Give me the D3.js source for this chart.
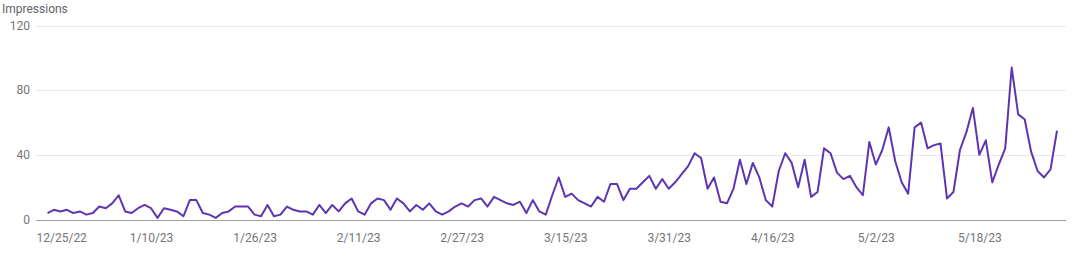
<!DOCTYPE html>
<html>
<head>
<meta charset="utf-8">
<script src="https://cdn.jsdelivr.net/npm/d3@7"></script>
<style>
  body { margin: 0; background: #fff; }
  svg { display: block; font-family: Roboto, "Noto Sans", sans-serif; }
</style>
</head>
<body>
<svg id="chart"></svg>
<script>
// daily impressions, 12/25/22 .. 5/30/23
const startDate = "2022-12-25";
const impressions = [
  4, 6, 5, 6, 4, 5, 3, 4, 8, 7, 10, 15, 5, 4, 7, 9, 7, 1, 7, 6, 5, 2, 12, 12, 4, 3,
  1, 4, 5, 8, 8, 8, 3, 2, 9, 2, 3, 8, 6, 5, 5, 3, 9, 4, 9, 5, 10, 13, 5, 3, 10,
  13, 12, 6, 13, 10, 5, 9, 6, 10, 5, 3, 5, 8, 10, 8, 12, 13, 8, 14, 12, 10, 9, 11, 4, 12, 5,
  3, 15, 26, 14, 16, 12, 10, 8, 14, 11, 22, 22, 12, 19, 19, 23, 27, 19, 25, 19, 23, 28, 33, 41, 38,
  19, 26, 11, 10, 19, 37, 22, 35, 26, 12, 8, 30, 41, 35, 20, 37, 14, 17, 44, 41, 29, 25, 27, 20, 15, 48,
  34, 43, 57, 36, 23, 16, 57, 60, 44, 46, 47, 13, 17, 43, 54, 69, 40, 49, 23, 34, 44, 94, 65, 62, 42, 30, 26, 31, 55
];
const xTickLabels = ["12/25/22", "1/10/23", "1/26/23", "2/11/23", "2/27/23", "3/15/23",
                     "3/31/23", "4/16/23", "5/2/23", "5/18/23"];
const yTicks = [0, 40, 80, 120];
const yTitle = "Impressions";

const width = 1077, height = 257;
const plotLeft = 36, plotRight = 1066;

const parseDate = d3.timeParse("%Y-%m-%d");
const parseTick = d3.timeParse("%-m/%-d/%y");
const day0 = parseDate(startDate);
const data = impressions.map((v, i) => ({ date: d3.timeDay.offset(day0, i), value: v }));

const x = d3.scaleTime()
    .domain(d3.extent(data, d => d.date))
    .range([47.5, 1057]);

const y = d3.scaleLinear()
    .domain([0, 120])
    .range([219.5, 25.5]);

const svg = d3.select("#chart")
    .attr("width", width)
    .attr("height", height);

// gridlines
svg.append("g")
  .selectAll("line")
  .data(yTicks.filter(t => t > 0))
  .join("line")
    .attr("x1", plotLeft)
    .attr("x2", plotRight)
    .attr("y1", d => Math.round(y(d)) + 0.5)
    .attr("y2", d => Math.round(y(d)) + 0.5)
    .attr("stroke", "#e8e8e8")
    .attr("stroke-width", 1);

// y tick labels
svg.append("g")
  .selectAll("text")
  .data(yTicks)
  .join("text")
    .attr("x", 30)
    .attr("y", d => y(d))
    .attr("dy", "0.35em")
    .attr("text-anchor", "end")
    .attr("font-size", 12)
    .attr("fill", "#757575")
    .text(d => d);

// title
svg.append("text")
    .attr("x", 2)
    .attr("y", 13)
    .attr("font-size", 12)
    .attr("fill", "#5f6368")
    .text(yTitle);

// x axis
const xAxis = d3.axisBottom(x)
    .tickValues(xTickLabels.map(parseTick))
    .tickFormat(d3.timeFormat("%-m/%-d/%y"))
    .tickSize(0)
    .tickPadding(13);

const gx = svg.append("g")
    .attr("transform", `translate(0,${Math.round(y(0)) + 0.5})`)
    .call(xAxis);
gx.select(".domain").remove();
gx.selectAll("text")
    .attr("font-size", 12)
    .attr("font-family", "Roboto, sans-serif")
    .attr("fill", "#757575");
gx.select(".tick:first-of-type text")
    .attr("text-anchor", "start")
    .attr("x", plotLeft - x(parseTick(xTickLabels[0])));

svg.append("line")
    .attr("x1", plotLeft)
    .attr("x2", plotRight)
    .attr("y1", Math.round(y(0)) + 0.5)
    .attr("y2", Math.round(y(0)) + 0.5)
    .attr("stroke", "#9e9e9e")
    .attr("stroke-width", 1);

// line
const line = d3.line()
    .x(d => x(d.date))
    .y(d => y(d.value));

svg.append("path")
    .datum(data)
    .attr("d", line)
    .attr("fill", "none")
    .attr("stroke", "#5e35b1")
    .attr("stroke-width", 2)
    .attr("stroke-linejoin", "round");
</script>
</body>
</html>
